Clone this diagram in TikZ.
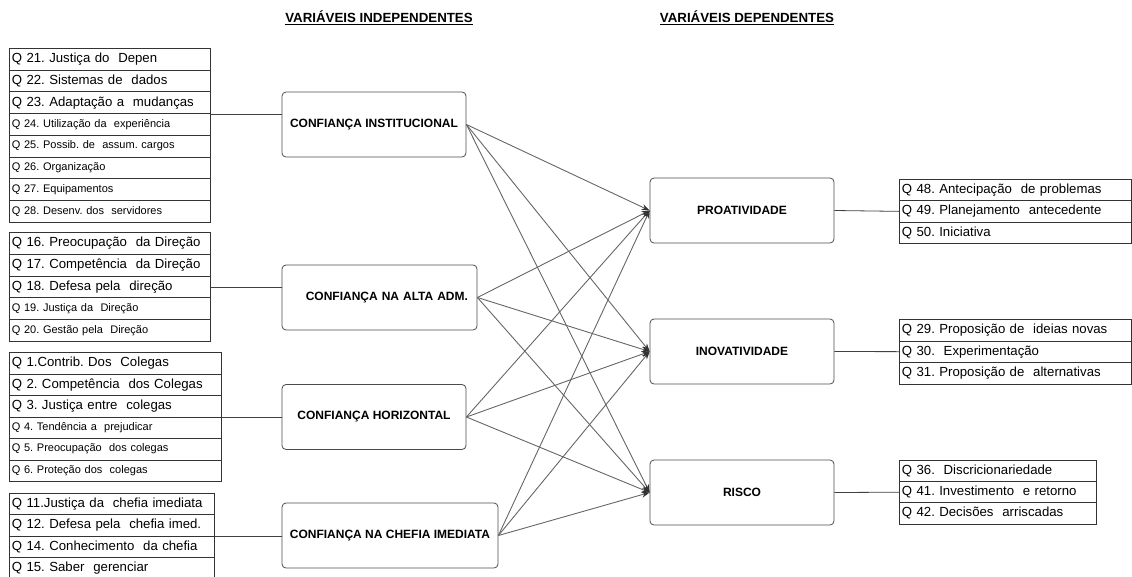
\documentclass[tikz,border=0pt]{standalone}
\usepackage{fontspec}
\setmainfont{Liberation Sans}
\usetikzlibrary{arrows.meta}

\newcommand{\qb}{\fontsize{13.2}{15}\selectfont}
\newcommand{\qs}{\fontsize{11}{13}\selectfont}
\frenchspacing

\tikzset{
  qrow/.style={draw=black!80, line width=0.8pt, rectangle, anchor=north west,
    inner xsep=2.5pt, inner ysep=0pt, align=left},
  cbox/.style={draw=black!70, line width=0.8pt, rounded corners=4pt,
    minimum height=65pt, font=\bfseries\fontsize{12}{14}\selectfont},
  ttl/.style={font=\bfseries\fontsize{13.3}{15}\selectfont},
  link/.style={draw=black!75, line width=0.8pt},
  seta/.style={draw=black!60, line width=0.9pt,
    -{Stealth[length=8pt, width=6pt, black!80]}}
}

\begin{document}
\begin{tikzpicture}[x=1pt, y=-1pt]
  \useasboundingbox (0,0) rectangle (1132,576);

  \node[ttl] (ind) at (379,18) {\underline{VARIÁVEIS INDEPENDENTES}};
  \node[ttl] (dep) at (747,18) {\underline{VARIÁVEIS DEPENDENTES}};

  % variaveis independentes
  \node[cbox, minimum width=184pt] (inst) at (374,124.5) {CONFIANÇA INSTITUCIONAL};
  \node[cbox, minimum width=195pt, text width=177pt, inner xsep=9pt, align=right]
    (alta) at (379.5,297.5) {CONFIANÇA NA ALTA ADM.};
  \node[cbox, minimum width=184pt] (horiz) at (374,417) {CONFIANÇA HORIZONTAL};
  \node[cbox, minimum width=216pt] (chefia) at (390,535.5) {CONFIANÇA NA CHEFIA IMEDIATA};

  % variaveis dependentes
  \node[cbox, minimum width=184pt] (pro) at (742,210.5) {PROATIVIDADE};
  \node[cbox, minimum width=184pt] (inov) at (742,351.5) {INOVATIVIDADE};
  \node[cbox, minimum width=184pt] (risco) at (742,492.5) {RISCO};

  % questoes
  \foreach \n/\t/\fs [count=\i from 0] in {
      q21/{Q 21. Justiça do~~Depen}/\qb, q22/{Q 22. Sistemas de~~dados}/\qb,
      q23/{Q 23. Adaptação a~~mudanças}/\qb, q24/{Q 24. Utilização da~~experiência}/\qs,
      q25/{Q 25. Possib. de~~assum. cargos}/\qs, q26/{Q 26. Organização}/\qs,
      q27/{Q 27. Equipamentos}/\qs, q28/{Q 28. Desenv. dos~~servidores}/\qs}
    \node[qrow, font=\fs, text width=196pt, minimum height=21.7pt] (\n) at (9,{48+\i*21.7}) {\t};
  \foreach \n/\t/\fs [count=\i from 0] in {
      q16/{Q 16. Preocupação~~da Direção}/\qb, q17/{Q 17. Competência~~da Direção}/\qb,
      q18/{Q 18. Defesa pela~~direção}/\qb, q19/{Q 19. Justiça da~~Direção}/\qs,
      q20/{Q 20. Gestão pela~~Direção}/\qs}
    \node[qrow, font=\fs, text width=196pt, minimum height=21.8pt] (\n) at (9,{232+\i*21.8}) {\t};
  \foreach \n/\t/\fs [count=\i from 0] in {
      q1/{Q 1.Contrib. Dos~~Colegas}/\qb, q2/{Q 2. Competência~~dos Colegas}/\qb,
      q3/{Q 3. Justiça entre~~colegas}/\qb, q4/{Q 4. Tendência a~~prejudicar}/\qs,
      q5/{Q 5. Preocupação~~dos colegas}/\qs, q6/{Q 6. Proteção dos~~colegas}/\qs}
    \node[qrow, font=\fs, text width=207pt, minimum height=21.5pt] (\n) at (9,{352+\i*21.5}) {\t};
  \foreach \n/\t [count=\i from 0] in {
      q11/{Q 11.Justiça da~~chefia imediata}, q12/{Q 12. Defesa pela~~chefia imed.},
      q14/{Q 14. Conhecimento~~da chefia}, q15/{Q 15. Saber~~gerenciar}}
    \node[qrow, font=\qb, text width=200pt, minimum height=21.4pt] (\n) at (9,{493+\i*21.4}) {\t};

  \foreach \n/\t [count=\i from 0] in {
      q48/{Q 48. Antecipação~~de problemas}, q49/{Q 49. Planejamento~~antecedente},
      q50/{Q 50. Iniciativa}}
    \node[qrow, font=\qb, text width=227pt, minimum height=21.3pt] (\n) at (899,{179+\i*21.3}) {\t};
  \foreach \n/\t [count=\i from 0] in {
      q29/{Q 29. Proposição de~~ideias novas}, q30/{Q 30.~~Experimentação},
      q31/{Q 31. Proposição de~~alternativas}}
    \node[qrow, font=\qb, text width=227pt, minimum height=21.5pt] (\n) at (899,{319+\i*21.5}) {\t};
  \foreach \n/\t [count=\i from 0] in {
      q36/{Q 36.~~Discricionariedade}, q41/{Q 41. Investimento~~e retorno},
      q42/{Q 42. Decisões~~arriscadas}}
    \node[qrow, font=\qb, text width=192pt, minimum height=21.2pt] (\n) at (899,{460+\i*21.2}) {\t};

  % ligacoes
  \draw[link] (q23.south east) -- (inst.west |- q23.south east);
  \draw[link] (q18.east) -- (alta.west |- q18.east);
  \draw[link] (q3.south east) -- (horiz.west |- q3.south east);
  \draw[link] (q12.south east) -- (chefia.west |- q12.south east);
  \draw[link] (pro.east) -- (q49.west);
  \draw[link] (inov.east) -- (q30.west);
  \draw[link] (risco.east) -- (q41.west);

  \foreach \a in {inst, alta, horiz, chefia}
    \foreach \b in {pro, inov, risco}
      \draw[seta] (\a.east) -- (\b.west);
\end{tikzpicture}
\end{document}
